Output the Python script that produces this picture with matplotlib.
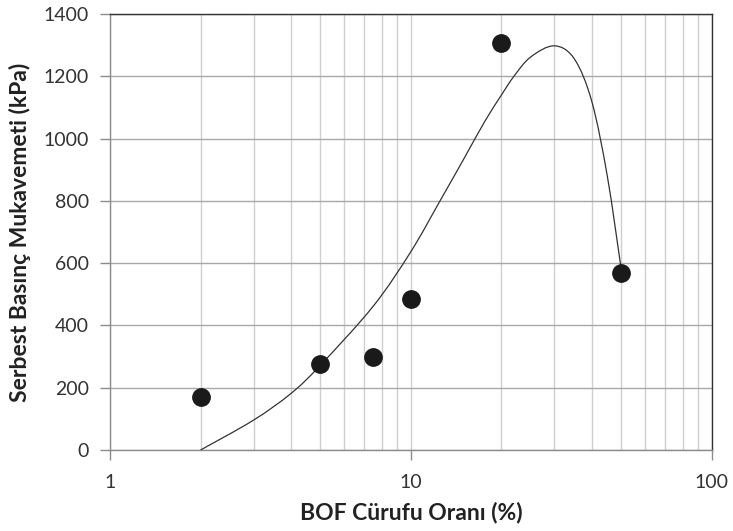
import numpy as np
import matplotlib
matplotlib.use("Agg")
import matplotlib.pyplot as plt
from matplotlib.path import Path
from matplotlib.patches import PathPatch
from matplotlib.ticker import FixedLocator, NullFormatter

# measured strength vs BOF slag ratio
slag_ratio = [2, 5, 7.5, 10, 20, 50]
strength = [171, 276, 299, 486, 1306, 569]

# trend curve drawn through the data (smoothed line)
curve_x = [2, 3, 4, 5, 7.5, 10, 12.5, 15, 17.6, 20, 22, 25, 30, 35, 40, 45, 50]
curve_y = [0, 96, 182, 272, 462, 637, 800, 935, 1055, 1140, 1200, 1262, 1298, 1255, 1117, 878, 582]

y_ticks = [0, 200, 400, 600, 800, 1000, 1200, 1400]
x_ticks = [1, 10, 100]
x_ticklabels = ["1", "10", "100"]

plt.rcParams["font.family"] = ["Lato", "DejaVu Sans"]


def smooth_path(xs, ys):
    # Catmull-Rom through the points in (log10 x, y) space, as cubic Beziers
    pts = np.column_stack([np.log10(xs), ys]).astype(float)
    n = len(pts)
    verts = [pts[0]]
    codes = [Path.MOVETO]
    for i in range(n - 1):
        p0 = pts[max(i - 1, 0)]
        p1 = pts[i]
        p2 = pts[i + 1]
        p3 = pts[min(i + 2, n - 1)]
        c1 = p1 + (p2 - p0) / 6.0
        c2 = p2 - (p3 - p1) / 6.0
        verts += [c1, c2, p2]
        codes += [Path.CURVE4] * 3
    verts = np.array(verts)
    verts[:, 0] = 10 ** verts[:, 0]
    return Path(verts, codes)


fig = plt.figure(figsize=(7.33, 5.31), dpi=100)
ax = fig.add_axes([0.150, 0.1525, 0.821, 0.821])

ax.set_xscale("log")
ax.set_xlim(1, 100)
ax.set_ylim(0, 1400)

# grid: y majors and every log decade subdivision on x
ax.yaxis.set_major_locator(FixedLocator(y_ticks))
ax.xaxis.set_major_locator(FixedLocator(x_ticks))
ax.set_xticklabels(x_ticklabels)
ax.xaxis.set_minor_formatter(NullFormatter())
ax.grid(True, which="major", axis="y", color="#a8a8a8", linewidth=1.0)
ax.grid(True, which="both", axis="x", color="#cfcfcf", linewidth=1.0)
ax.set_axisbelow(True)

ax.tick_params(axis="both", which="major", length=7, width=1, color="#8c8c8c",
               labelsize=14, labelcolor="#333333", pad=8)
ax.tick_params(axis="x", which="minor", length=0)
ax.tick_params(axis="x", which="major", pad=10)

for side in ["left", "bottom"]:
    ax.spines[side].set_color("#8c8c8c")
    ax.spines[side].set_linewidth(1.0)
for side in ["top", "right"]:
    ax.spines[side].set_color("#333333")
    ax.spines[side].set_linewidth(1.0)

trend = PathPatch(smooth_path(curve_x, curve_y), transform=ax.transData,
                  fill=False, edgecolor="#333333", linewidth=0.9, zorder=3)
ax.add_patch(trend)

ax.plot(slag_ratio, strength, linestyle="none", marker="o", markersize=12.5,
        color="#1a1a1a", zorder=4)

ax.set_xlabel("BOF Cürufu Oranı (%)", fontsize=16.5, fontweight="bold",
              color="#222222", labelpad=8)
ax.set_ylabel("Serbest Basınç Mukavemeti (kPa)", fontsize=16.5, fontweight="bold",
              color="#222222", labelpad=9)

fig.savefig("out.png", dpi=100)
